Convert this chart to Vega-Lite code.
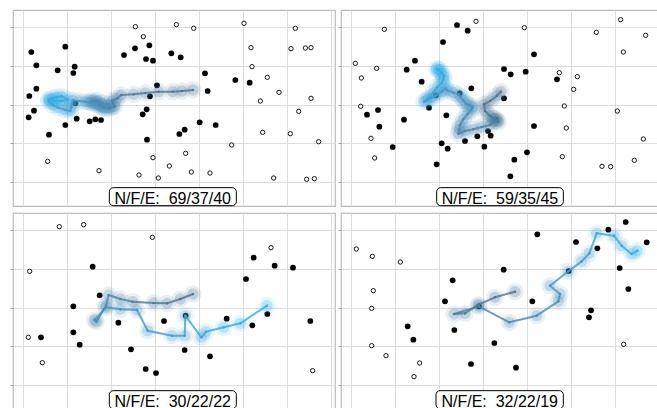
{
  "$schema": "https://vega.github.io/schema/vega-lite/v6.json",
  "padding": {"left": 8, "top": 9, "right": 0, "bottom": 0},
  "background": "white",
  "config": {
    "view": {"stroke": "#bdbdbd", "strokeWidth": 1.2},
    "axis": {"gridColor": "#dddddd", "gridWidth": 1, "labels": false, "domain": false, "title": null, "minExtent": 0}
  },
  "data": {"values": [
    {"p":"A","k":"f","x":88,"y":153},{"p":"A","k":"f","x":103,"y":193},{"p":"A","k":"f","x":190,"y":137},{"p":"A","k":"f","x":167,"y":208},{"p":"A","k":"f","x":218,"y":197},{"p":"A","k":"f","x":214,"y":216},{"p":"A","k":"f","x":103,"y":263},{"p":"A","k":"f","x":82,"y":285},{"p":"A","k":"f","x":96,"y":329},{"p":"A","k":"f","x":80,"y":349},{"p":"A","k":"f","x":141,"y":401},{"p":"A","k":"f","x":190,"y":372},{"p":"A","k":"f","x":224,"y":353},{"p":"A","k":"f","x":220,"y":307},{"p":"A","k":"f","x":263,"y":361},{"p":"A","k":"f","x":280,"y":355},{"p":"A","k":"f","x":297,"y":357},{"p":"A","k":"f","x":366,"y":162},{"p":"A","k":"f","x":399,"y":142},{"p":"A","k":"f","x":442,"y":133},{"p":"A","k":"f","x":432,"y":174},{"p":"A","k":"f","x":453,"y":179},{"p":"A","k":"f","x":508,"y":157},{"p":"A","k":"f","x":536,"y":169},{"p":"A","k":"f","x":465,"y":253},{"p":"A","k":"f","x":444,"y":286},{"p":"A","k":"f","x":434,"y":325},{"p":"A","k":"f","x":422,"y":340},{"p":"A","k":"f","x":435,"y":416},{"p":"A","k":"f","x":532,"y":399},{"p":"A","k":"f","x":548,"y":386},{"p":"A","k":"f","x":593,"y":364},{"p":"A","k":"f","x":641,"y":372},{"p":"A","k":"f","x":609,"y":217},{"p":"A","k":"f","x":617,"y":270},{"p":"A","k":"f","x":700,"y":237},{"p":"A","k":"f","x":743,"y":245},
    {"p":"A","k":"o","x":400,"y":77},{"p":"A","k":"o","x":523,"y":71},{"p":"A","k":"o","x":575,"y":82},{"p":"A","k":"o","x":424,"y":107},{"p":"A","k":"o","x":726,"y":67},{"p":"A","k":"o","x":880,"y":82},{"p":"A","k":"o","x":747,"y":140},{"p":"A","k":"o","x":867,"y":143},{"p":"A","k":"o","x":910,"y":141},{"p":"A","k":"o","x":927,"y":140},{"p":"A","k":"o","x":750,"y":197},{"p":"A","k":"o","x":796,"y":229},{"p":"A","k":"o","x":831,"y":274},{"p":"A","k":"o","x":775,"y":300},{"p":"A","k":"o","x":927,"y":292},{"p":"A","k":"o","x":890,"y":331},{"p":"A","k":"o","x":782,"y":394},{"p":"A","k":"o","x":865,"y":398},{"p":"A","k":"o","x":950,"y":422},{"p":"A","k":"o","x":689,"y":432},{"p":"A","k":"o","x":453,"y":470},{"p":"A","k":"o","x":551,"y":457},{"p":"A","k":"o","x":502,"y":495},{"p":"A","k":"o","x":411,"y":522},{"p":"A","k":"o","x":469,"y":531},{"p":"A","k":"o","x":568,"y":513},{"p":"A","k":"o","x":624,"y":516},{"p":"A","k":"o","x":137,"y":481},{"p":"A","k":"o","x":291,"y":509},{"p":"A","k":"o","x":815,"y":531},{"p":"A","k":"o","x":914,"y":535},{"p":"A","k":"o","x":937,"y":533},
    {"p":"A","k":"l","s":1,"x":573,"y":267},{"p":"A","k":"l","s":2,"x":540,"y":270},{"p":"A","k":"l","s":3,"x":512,"y":272},{"p":"A","k":"l","s":4,"x":470,"y":272},{"p":"A","k":"l","s":5,"x":430,"y":276},{"p":"A","k":"l","s":6,"x":395,"y":280},{"p":"A","k":"l","s":7,"x":358,"y":282},{"p":"A","k":"l","s":8,"x":345,"y":292},{"p":"A","k":"l","s":9,"x":330,"y":300},{"p":"A","k":"l","s":10,"x":338,"y":316},{"p":"A","k":"l","s":11,"x":322,"y":322},{"p":"A","k":"l","s":12,"x":305,"y":320},{"p":"A","k":"l","s":13,"x":292,"y":312},{"p":"A","k":"l","s":14,"x":280,"y":303},{"p":"A","k":"l","s":15,"x":268,"y":300},{"p":"A","k":"l","s":16,"x":285,"y":298},{"p":"A","k":"l","s":17,"x":300,"y":306},{"p":"A","k":"l","s":18,"x":318,"y":310},{"p":"A","k":"l","s":19,"x":330,"y":318},{"p":"A","k":"l","s":20,"x":312,"y":322},{"p":"A","k":"l","s":21,"x":296,"y":318},{"p":"A","k":"l","s":22,"x":283,"y":310},{"p":"A","k":"l","s":23,"x":270,"y":306},{"p":"A","k":"l","s":24,"x":262,"y":304},{"p":"A","k":"l","s":25,"x":250,"y":302},{"p":"A","k":"l","s":26,"x":230,"y":300},{"p":"A","k":"l","s":27,"x":212,"y":298},{"p":"A","k":"l","s":28,"x":208,"y":318},{"p":"A","k":"l","s":29,"x":205,"y":330},{"p":"A","k":"l","s":30,"x":188,"y":326},{"p":"A","k":"l","s":31,"x":168,"y":320},{"p":"A","k":"l","s":32,"x":152,"y":312},{"p":"A","k":"l","s":33,"x":140,"y":300},{"p":"A","k":"l","s":34,"x":150,"y":292},{"p":"A","k":"l","s":35,"x":165,"y":288},{"p":"A","k":"l","s":36,"x":180,"y":286},{"p":"A","k":"l","s":37,"x":198,"y":296},{"p":"A","k":"l","s":38,"x":178,"y":300},{"p":"A","k":"l","s":39,"x":155,"y":300},{"p":"A","k":"l","s":40,"x":140,"y":295},
    {"p":"A","k":"t","label":"N/F/E:\u00a0 69/37/40"},

    {"p":"B","k":"f","x":381,"y":72},{"p":"B","k":"f","x":413,"y":89},{"p":"B","k":"f","x":339,"y":123},{"p":"B","k":"f","x":612,"y":160},{"p":"B","k":"f","x":255,"y":179},{"p":"B","k":"f","x":230,"y":206},{"p":"B","k":"f","x":275,"y":242},{"p":"B","k":"f","x":522,"y":204},{"p":"B","k":"f","x":542,"y":220},{"p":"B","k":"f","x":587,"y":212},{"p":"B","k":"f","x":681,"y":235},{"p":"B","k":"f","x":318,"y":283},{"p":"B","k":"f","x":389,"y":277},{"p":"B","k":"f","x":424,"y":262},{"p":"B","k":"f","x":522,"y":292},{"p":"B","k":"f","x":297,"y":320},{"p":"B","k":"f","x":144,"y":327},{"p":"B","k":"f","x":111,"y":341},{"p":"B","k":"f","x":148,"y":377},{"p":"B","k":"f","x":222,"y":356},{"p":"B","k":"f","x":349,"y":343},{"p":"B","k":"f","x":612,"y":375},{"p":"B","k":"f","x":442,"y":406},{"p":"B","k":"f","x":405,"y":420},{"p":"B","k":"f","x":474,"y":390},{"p":"B","k":"f","x":482,"y":404},{"p":"B","k":"f","x":463,"y":437},{"p":"B","k":"f","x":335,"y":427},{"p":"B","k":"f","x":353,"y":443},{"p":"B","k":"f","x":188,"y":438},{"p":"B","k":"f","x":591,"y":454},{"p":"B","k":"f","x":553,"y":476},{"p":"B","k":"f","x":320,"y":490},{"p":"B","k":"f","x":541,"y":526},{"p":"B","k":"f","x":497,"y":356},
    {"p":"B","k":"o","x":438,"y":61},{"p":"B","k":"o","x":163,"y":85},{"p":"B","k":"o","x":583,"y":80},{"p":"B","k":"o","x":799,"y":94},{"p":"B","k":"o","x":872,"y":56},{"p":"B","k":"o","x":947,"y":103},{"p":"B","k":"o","x":880,"y":153},{"p":"B","k":"o","x":76,"y":187},{"p":"B","k":"o","x":140,"y":202},{"p":"B","k":"o","x":94,"y":231},{"p":"B","k":"o","x":688,"y":215},{"p":"B","k":"o","x":742,"y":227},{"p":"B","k":"o","x":731,"y":265},{"p":"B","k":"o","x":92,"y":316},{"p":"B","k":"o","x":703,"y":315},{"p":"B","k":"o","x":862,"y":330},{"p":"B","k":"o","x":709,"y":381},{"p":"B","k":"o","x":123,"y":412},{"p":"B","k":"o","x":940,"y":414},{"p":"B","k":"o","x":134,"y":471},{"p":"B","k":"o","x":697,"y":467},{"p":"B","k":"o","x":816,"y":496},{"p":"B","k":"o","x":842,"y":497},{"p":"B","k":"o","x":913,"y":478},
    {"p":"B","k":"l","s":1,"x":513,"y":272},{"p":"B","k":"l","s":2,"x":500,"y":285},{"p":"B","k":"l","s":3,"x":480,"y":300},{"p":"B","k":"l","s":4,"x":462,"y":310},{"p":"B","k":"l","s":5,"x":465,"y":330},{"p":"B","k":"l","s":6,"x":480,"y":345},{"p":"B","k":"l","s":7,"x":495,"y":352},{"p":"B","k":"l","s":8,"x":505,"y":362},{"p":"B","k":"l","s":9,"x":495,"y":360},{"p":"B","k":"l","s":10,"x":488,"y":352},{"p":"B","k":"l","s":11,"x":500,"y":358},{"p":"B","k":"l","s":12,"x":480,"y":372},{"p":"B","k":"l","s":13,"x":455,"y":378},{"p":"B","k":"l","s":14,"x":430,"y":385},{"p":"B","k":"l","s":15,"x":405,"y":390},{"p":"B","k":"l","s":16,"x":385,"y":398},{"p":"B","k":"l","s":17,"x":388,"y":385},{"p":"B","k":"l","s":18,"x":390,"y":372},{"p":"B","k":"l","s":19,"x":400,"y":355},{"p":"B","k":"l","s":20,"x":412,"y":340},{"p":"B","k":"l","s":21,"x":425,"y":325},{"p":"B","k":"l","s":22,"x":428,"y":318},{"p":"B","k":"l","s":23,"x":418,"y":312},{"p":"B","k":"l","s":24,"x":408,"y":308},{"p":"B","k":"l","s":25,"x":400,"y":298},{"p":"B","k":"l","s":26,"x":392,"y":288},{"p":"B","k":"l","s":27,"x":385,"y":280},{"p":"B","k":"l","s":28,"x":370,"y":275},{"p":"B","k":"l","s":29,"x":352,"y":268},{"p":"B","k":"l","s":30,"x":348,"y":262},{"p":"B","k":"l","s":31,"x":335,"y":272},{"p":"B","k":"l","s":32,"x":320,"y":282},{"p":"B","k":"l","s":33,"x":305,"y":290},{"p":"B","k":"l","s":34,"x":290,"y":298},{"p":"B","k":"l","s":35,"x":282,"y":302},{"p":"B","k":"l","s":36,"x":295,"y":292},{"p":"B","k":"l","s":37,"x":310,"y":275},{"p":"B","k":"l","s":38,"x":322,"y":258},{"p":"B","k":"l","s":39,"x":335,"y":245},{"p":"B","k":"l","s":40,"x":340,"y":235},{"p":"B","k":"l","s":41,"x":342,"y":225},{"p":"B","k":"l","s":42,"x":335,"y":215},{"p":"B","k":"l","s":43,"x":325,"y":207},{"p":"B","k":"l","s":44,"x":320,"y":203},{"p":"B","k":"l","s":45,"x":328,"y":205},
    {"p":"B","k":"t","label":"N/F/E:\u00a0 59/35/45"},

    {"p":"C","k":"f","x":272,"y":188},{"p":"C","k":"f","x":293,"y":274},{"p":"C","k":"f","x":214,"y":307},{"p":"C","k":"f","x":214,"y":385},{"p":"C","k":"f","x":233,"y":422},{"p":"C","k":"f","x":117,"y":400},{"p":"C","k":"f","x":349,"y":356},{"p":"C","k":"f","x":387,"y":436},{"p":"C","k":"f","x":431,"y":495},{"p":"C","k":"f","x":462,"y":507},{"p":"C","k":"f","x":486,"y":351},{"p":"C","k":"f","x":548,"y":438},{"p":"C","k":"f","x":624,"y":457},{"p":"C","k":"f","x":551,"y":335},{"p":"C","k":"f","x":674,"y":344},{"p":"C","k":"f","x":751,"y":364},{"p":"C","k":"f","x":796,"y":330},{"p":"C","k":"f","x":732,"y":225},{"p":"C","k":"f","x":755,"y":161},{"p":"C","k":"f","x":818,"y":185},{"p":"C","k":"f","x":873,"y":191},{"p":"C","k":"f","x":925,"y":351},
    {"p":"C","k":"o","x":172,"y":68},{"p":"C","k":"o","x":245,"y":62},{"p":"C","k":"o","x":451,"y":100},{"p":"C","k":"o","x":807,"y":131},{"p":"C","k":"o","x":83,"y":202},{"p":"C","k":"o","x":79,"y":400},{"p":"C","k":"o","x":121,"y":476},{"p":"C","k":"o","x":932,"y":500},
    {"p":"C","k":"l","s":1,"x":573,"y":270},{"p":"C","k":"l","s":2,"x":535,"y":285},{"p":"C","k":"l","s":3,"x":495,"y":298},{"p":"C","k":"l","s":4,"x":455,"y":297},{"p":"C","k":"l","s":5,"x":392,"y":293},{"p":"C","k":"l","s":6,"x":355,"y":285},{"p":"C","k":"l","s":7,"x":320,"y":273},{"p":"C","k":"l","s":8,"x":312,"y":305},{"p":"C","k":"l","s":9,"x":283,"y":353},{"p":"C","k":"l","s":10,"x":278,"y":348},{"p":"C","k":"l","s":11,"x":312,"y":310},{"p":"C","k":"l","s":12,"x":355,"y":316},{"p":"C","k":"l","s":13,"x":405,"y":318},{"p":"C","k":"l","s":14,"x":437,"y":380},{"p":"C","k":"l","s":15,"x":510,"y":395},{"p":"C","k":"l","s":16,"x":548,"y":395},{"p":"C","k":"l","s":17,"x":550,"y":335},{"p":"C","k":"l","s":18,"x":598,"y":400},{"p":"C","k":"l","s":19,"x":612,"y":383},{"p":"C","k":"l","s":20,"x":665,"y":370},{"p":"C","k":"l","s":21,"x":715,"y":358},{"p":"C","k":"l","s":22,"x":795,"y":305},
    {"p":"C","k":"t","label":"N/F/E:\u00a0 30/22/22"},

    {"p":"D","k":"f","x":622,"y":91},{"p":"D","k":"f","x":738,"y":114},{"p":"D","k":"f","x":835,"y":77},{"p":"D","k":"f","x":887,"y":54},{"p":"D","k":"f","x":950,"y":115},{"p":"D","k":"f","x":802,"y":133},{"p":"D","k":"f","x":716,"y":201},{"p":"D","k":"f","x":869,"y":192},{"p":"D","k":"f","x":895,"y":255},{"p":"D","k":"f","x":521,"y":197},{"p":"D","k":"f","x":368,"y":229},{"p":"D","k":"f","x":345,"y":292},{"p":"D","k":"f","x":607,"y":292},{"p":"D","k":"f","x":447,"y":307},{"p":"D","k":"f","x":783,"y":319},{"p":"D","k":"f","x":777,"y":340},{"p":"D","k":"f","x":373,"y":378},{"p":"D","k":"f","x":233,"y":367},{"p":"D","k":"f","x":250,"y":407},{"p":"D","k":"f","x":493,"y":417},{"p":"D","k":"f","x":423,"y":480},{"p":"D","k":"f","x":558,"y":491},
    {"p":"D","k":"o","x":79,"y":135},{"p":"D","k":"o","x":127,"y":157},{"p":"D","k":"o","x":211,"y":174},{"p":"D","k":"o","x":130,"y":260},{"p":"D","k":"o","x":125,"y":313},{"p":"D","k":"o","x":125,"y":425},{"p":"D","k":"o","x":168,"y":455},{"p":"D","k":"o","x":269,"y":477},{"p":"D","k":"o","x":252,"y":518},{"p":"D","k":"o","x":881,"y":421},
    {"p":"D","k":"l","s":1,"x":555,"y":263},{"p":"D","k":"l","s":2,"x":495,"y":280},{"p":"D","k":"l","s":3,"x":445,"y":302},{"p":"D","k":"l","s":4,"x":405,"y":328},{"p":"D","k":"l","s":5,"x":372,"y":330},{"p":"D","k":"l","s":6,"x":447,"y":307},{"p":"D","k":"l","s":7,"x":538,"y":355},{"p":"D","k":"l","s":8,"x":620,"y":335},{"p":"D","k":"l","s":9,"x":685,"y":292},{"p":"D","k":"l","s":10,"x":690,"y":270},{"p":"D","k":"l","s":11,"x":660,"y":245},{"p":"D","k":"l","s":12,"x":715,"y":202},{"p":"D","k":"l","s":13,"x":755,"y":172},{"p":"D","k":"l","s":14,"x":778,"y":148},{"p":"D","k":"l","s":15,"x":800,"y":88},{"p":"D","k":"l","s":16,"x":852,"y":95},{"p":"D","k":"l","s":17,"x":875,"y":125},{"p":"D","k":"l","s":18,"x":905,"y":150},{"p":"D","k":"l","s":19,"x":922,"y":140},
    {"p":"D","k":"t","label":"N/F/E:\u00a0 32/22/19"}
  ]},
  "columns": 2,
  "spacing": {"row": 7, "column": 6},
  "bounds": "flush",
  "resolve": {"scale": {"color": "independent"}},
  "concat": [
    {"width": 322, "height": 196, "transform": [{"filter": "datum.p === 'A'"}], "layer": [
      {"transform": [{"filter": "datum.k === 'f'"}], "mark": {"type": "point", "shape": "circle", "filled": true, "size": 33, "color": "black", "opacity": 1},
       "encoding": {"x": {"field": "x", "type": "quantitative", "scale": {"domain": [33, 999], "nice": false, "zero": false}, "axis": {"grid": true, "ticks": false, "values": [64, 195.5, 327, 458.5, 590.5, 722.5, 854.5, 986]}},
                    "y": {"field": "y", "type": "quantitative", "scale": {"domain": [27, 615], "nice": false, "zero": false, "reverse": true}, "axis": {"grid": true, "ticks": true, "tickSize": 3, "tickWidth": 1, "tickColor": {"condition": {"test": "round((datum.value - 78) / 58.2) % 2 === 0", "value": "#9a9a9a"}, "value": "transparent"}, "values": [78, 136.2, 194.4, 252.6, 310.8, 369, 427.2, 485.4, 543.6, 601.8]}}}},
      {"transform": [{"filter": "datum.k === 'o'"}], "mark": {"type": "point", "shape": "circle", "filled": false, "size": 19, "stroke": "black", "strokeWidth": 0.9, "fill": "white", "opacity": 1},
       "encoding": {"x": {"field": "x", "type": "quantitative"}, "y": {"field": "y", "type": "quantitative"}}},
      {"transform": [{"filter": "datum.k === 'l'"}], "mark": {"type": "circle", "size": 300, "opacity": 0.12},
       "encoding": {"x": {"field": "x", "type": "quantitative"}, "y": {"field": "y", "type": "quantitative"}, "color": {"field": "s", "type": "quantitative", "scale": {"range": ["#4d7390", "#2fb1ec"]}, "legend": null}}},
      {"transform": [{"filter": "datum.k === 'l'"}], "mark": {"type": "circle", "size": 130, "opacity": 0.25},
       "encoding": {"x": {"field": "x", "type": "quantitative"}, "y": {"field": "y", "type": "quantitative"}, "color": {"field": "s", "type": "quantitative", "legend": null}}},
      {"transform": [{"filter": "datum.k === 'l'"}, {"window": [{"op": "lead", "field": "x", "as": "x2"}, {"op": "lead", "field": "y", "as": "y2"}], "sort": [{"field": "s"}]}, {"filter": "datum.x2 != null"}],
       "mark": {"type": "rule", "strokeWidth": 2, "opacity": 0.8, "strokeCap": "round"},
       "encoding": {"x": {"field": "x", "type": "quantitative"}, "y": {"field": "y", "type": "quantitative"}, "x2": {"field": "x2"}, "y2": {"field": "y2"}, "color": {"field": "s", "type": "quantitative", "legend": null}}},
      {"transform": [{"filter": "datum.k === 'l'"}], "mark": {"type": "circle", "size": 6, "opacity": 0.9},
       "encoding": {"x": {"field": "x", "type": "quantitative"}, "y": {"field": "y", "type": "quantitative"}, "color": {"field": "s", "type": "quantitative", "legend": null}}},
      {"transform": [{"filter": "datum.k === 't'"}], "mark": {"type": "rect", "fill": "white", "stroke": "black", "strokeWidth": 1, "cornerRadius": 4},
       "encoding": {"x": {"datum": 322, "type": "quantitative"}, "x2": {"datum": 703}, "y": {"datum": 560, "type": "quantitative"}, "y2": {"datum": 614}}},
      {"transform": [{"filter": "datum.k === 't'"}], "mark": {"type": "text", "font": "Liberation Sans", "fontSize": 16, "color": "black", "align": "center", "baseline": "alphabetic"},
       "encoding": {"x": {"datum": 512, "type": "quantitative"}, "y": {"datum": 609, "type": "quantitative"}, "text": {"field": "label"}}}
    ]},
    {"width": 322, "height": 196, "transform": [{"filter": "datum.p === 'B'"}], "layer": [
      {"transform": [{"filter": "datum.k === 'f'"}], "mark": {"type": "point", "shape": "circle", "filled": true, "size": 33, "color": "black", "opacity": 1},
       "encoding": {"x": {"field": "x", "type": "quantitative", "scale": {"domain": [33, 999], "nice": false, "zero": false}, "axis": {"grid": true, "ticks": false, "values": [64, 195.5, 327, 458.5, 590.5, 722.5, 854.5, 986]}},
                    "y": {"field": "y", "type": "quantitative", "scale": {"domain": [27, 615], "nice": false, "zero": false, "reverse": true}, "axis": {"grid": true, "ticks": true, "tickSize": 3, "tickWidth": 1, "tickColor": {"condition": {"test": "round((datum.value - 78) / 58.2) % 2 === 0", "value": "#9a9a9a"}, "value": "transparent"}, "values": [78, 136.2, 194.4, 252.6, 310.8, 369, 427.2, 485.4, 543.6, 601.8]}}}},
      {"transform": [{"filter": "datum.k === 'o'"}], "mark": {"type": "point", "shape": "circle", "filled": false, "size": 19, "stroke": "black", "strokeWidth": 0.9, "fill": "white", "opacity": 1},
       "encoding": {"x": {"field": "x", "type": "quantitative"}, "y": {"field": "y", "type": "quantitative"}}},
      {"transform": [{"filter": "datum.k === 'l'"}], "mark": {"type": "circle", "size": 300, "opacity": 0.12},
       "encoding": {"x": {"field": "x", "type": "quantitative"}, "y": {"field": "y", "type": "quantitative"}, "color": {"field": "s", "type": "quantitative", "scale": {"range": ["#4d7390", "#2fb1ec"]}, "legend": null}}},
      {"transform": [{"filter": "datum.k === 'l'"}], "mark": {"type": "circle", "size": 130, "opacity": 0.25},
       "encoding": {"x": {"field": "x", "type": "quantitative"}, "y": {"field": "y", "type": "quantitative"}, "color": {"field": "s", "type": "quantitative", "legend": null}}},
      {"transform": [{"filter": "datum.k === 'l'"}, {"window": [{"op": "lead", "field": "x", "as": "x2"}, {"op": "lead", "field": "y", "as": "y2"}], "sort": [{"field": "s"}]}, {"filter": "datum.x2 != null"}],
       "mark": {"type": "rule", "strokeWidth": 2, "opacity": 0.8, "strokeCap": "round"},
       "encoding": {"x": {"field": "x", "type": "quantitative"}, "y": {"field": "y", "type": "quantitative"}, "x2": {"field": "x2"}, "y2": {"field": "y2"}, "color": {"field": "s", "type": "quantitative", "legend": null}}},
      {"transform": [{"filter": "datum.k === 'l'"}], "mark": {"type": "circle", "size": 6, "opacity": 0.9},
       "encoding": {"x": {"field": "x", "type": "quantitative"}, "y": {"field": "y", "type": "quantitative"}, "color": {"field": "s", "type": "quantitative", "legend": null}}},
      {"transform": [{"filter": "datum.k === 't'"}], "mark": {"type": "rect", "fill": "white", "stroke": "black", "strokeWidth": 1, "cornerRadius": 4},
       "encoding": {"x": {"datum": 320, "type": "quantitative"}, "x2": {"datum": 700}, "y": {"datum": 560, "type": "quantitative"}, "y2": {"datum": 614}}},
      {"transform": [{"filter": "datum.k === 't'"}], "mark": {"type": "text", "font": "Liberation Sans", "fontSize": 16, "color": "black", "align": "center", "baseline": "alphabetic"},
       "encoding": {"x": {"datum": 510, "type": "quantitative"}, "y": {"datum": 609, "type": "quantitative"}, "text": {"field": "label"}}}
    ]},
    {"width": 322, "height": 196, "transform": [{"filter": "datum.p === 'C'"}], "layer": [
      {"transform": [{"filter": "datum.k === 'f'"}], "mark": {"type": "point", "shape": "circle", "filled": true, "size": 33, "color": "black", "opacity": 1},
       "encoding": {"x": {"field": "x", "type": "quantitative", "scale": {"domain": [33, 999], "nice": false, "zero": false}, "axis": {"grid": true, "ticks": false, "values": [64, 195.5, 327, 458.5, 590.5, 722.5, 854.5, 986]}},
                    "y": {"field": "y", "type": "quantitative", "scale": {"domain": [27, 615], "nice": false, "zero": false, "reverse": true}, "axis": {"grid": true, "ticks": true, "tickSize": 3, "tickWidth": 1, "tickColor": {"condition": {"test": "round((datum.value - 78) / 58.2) % 2 === 0", "value": "#9a9a9a"}, "value": "transparent"}, "values": [78, 136.2, 194.4, 252.6, 310.8, 369, 427.2, 485.4, 543.6, 601.8]}}}},
      {"transform": [{"filter": "datum.k === 'o'"}], "mark": {"type": "point", "shape": "circle", "filled": false, "size": 19, "stroke": "black", "strokeWidth": 0.9, "fill": "white", "opacity": 1},
       "encoding": {"x": {"field": "x", "type": "quantitative"}, "y": {"field": "y", "type": "quantitative"}}},
      {"transform": [{"filter": "datum.k === 'l'"}], "mark": {"type": "circle", "size": 300, "opacity": 0.12},
       "encoding": {"x": {"field": "x", "type": "quantitative"}, "y": {"field": "y", "type": "quantitative"}, "color": {"field": "s", "type": "quantitative", "scale": {"range": ["#4d7390", "#2fb1ec"]}, "legend": null}}},
      {"transform": [{"filter": "datum.k === 'l'"}], "mark": {"type": "circle", "size": 130, "opacity": 0.25},
       "encoding": {"x": {"field": "x", "type": "quantitative"}, "y": {"field": "y", "type": "quantitative"}, "color": {"field": "s", "type": "quantitative", "legend": null}}},
      {"transform": [{"filter": "datum.k === 'l'"}, {"window": [{"op": "lead", "field": "x", "as": "x2"}, {"op": "lead", "field": "y", "as": "y2"}], "sort": [{"field": "s"}]}, {"filter": "datum.x2 != null"}],
       "mark": {"type": "rule", "strokeWidth": 2, "opacity": 0.8, "strokeCap": "round"},
       "encoding": {"x": {"field": "x", "type": "quantitative"}, "y": {"field": "y", "type": "quantitative"}, "x2": {"field": "x2"}, "y2": {"field": "y2"}, "color": {"field": "s", "type": "quantitative", "legend": null}}},
      {"transform": [{"filter": "datum.k === 'l'"}], "mark": {"type": "circle", "size": 6, "opacity": 0.9},
       "encoding": {"x": {"field": "x", "type": "quantitative"}, "y": {"field": "y", "type": "quantitative"}, "color": {"field": "s", "type": "quantitative", "legend": null}}},
      {"transform": [{"filter": "datum.k === 't'"}], "mark": {"type": "rect", "fill": "white", "stroke": "black", "strokeWidth": 1, "cornerRadius": 4},
       "encoding": {"x": {"datum": 322, "type": "quantitative"}, "x2": {"datum": 703}, "y": {"datum": 560, "type": "quantitative"}, "y2": {"datum": 614}}},
      {"transform": [{"filter": "datum.k === 't'"}], "mark": {"type": "text", "font": "Liberation Sans", "fontSize": 16, "color": "black", "align": "center", "baseline": "alphabetic"},
       "encoding": {"x": {"datum": 512, "type": "quantitative"}, "y": {"datum": 609, "type": "quantitative"}, "text": {"field": "label"}}}
    ]},
    {"width": 322, "height": 196, "transform": [{"filter": "datum.p === 'D'"}], "layer": [
      {"transform": [{"filter": "datum.k === 'f'"}], "mark": {"type": "point", "shape": "circle", "filled": true, "size": 33, "color": "black", "opacity": 1},
       "encoding": {"x": {"field": "x", "type": "quantitative", "scale": {"domain": [33, 999], "nice": false, "zero": false}, "axis": {"grid": true, "ticks": false, "values": [64, 195.5, 327, 458.5, 590.5, 722.5, 854.5, 986]}},
                    "y": {"field": "y", "type": "quantitative", "scale": {"domain": [27, 615], "nice": false, "zero": false, "reverse": true}, "axis": {"grid": true, "ticks": true, "tickSize": 3, "tickWidth": 1, "tickColor": {"condition": {"test": "round((datum.value - 78) / 58.2) % 2 === 0", "value": "#9a9a9a"}, "value": "transparent"}, "values": [78, 136.2, 194.4, 252.6, 310.8, 369, 427.2, 485.4, 543.6, 601.8]}}}},
      {"transform": [{"filter": "datum.k === 'o'"}], "mark": {"type": "point", "shape": "circle", "filled": false, "size": 19, "stroke": "black", "strokeWidth": 0.9, "fill": "white", "opacity": 1},
       "encoding": {"x": {"field": "x", "type": "quantitative"}, "y": {"field": "y", "type": "quantitative"}}},
      {"transform": [{"filter": "datum.k === 'l'"}], "mark": {"type": "circle", "size": 300, "opacity": 0.12},
       "encoding": {"x": {"field": "x", "type": "quantitative"}, "y": {"field": "y", "type": "quantitative"}, "color": {"field": "s", "type": "quantitative", "scale": {"range": ["#4d7390", "#2fb1ec"]}, "legend": null}}},
      {"transform": [{"filter": "datum.k === 'l'"}], "mark": {"type": "circle", "size": 130, "opacity": 0.25},
       "encoding": {"x": {"field": "x", "type": "quantitative"}, "y": {"field": "y", "type": "quantitative"}, "color": {"field": "s", "type": "quantitative", "legend": null}}},
      {"transform": [{"filter": "datum.k === 'l'"}, {"window": [{"op": "lead", "field": "x", "as": "x2"}, {"op": "lead", "field": "y", "as": "y2"}], "sort": [{"field": "s"}]}, {"filter": "datum.x2 != null"}],
       "mark": {"type": "rule", "strokeWidth": 2, "opacity": 0.8, "strokeCap": "round"},
       "encoding": {"x": {"field": "x", "type": "quantitative"}, "y": {"field": "y", "type": "quantitative"}, "x2": {"field": "x2"}, "y2": {"field": "y2"}, "color": {"field": "s", "type": "quantitative", "legend": null}}},
      {"transform": [{"filter": "datum.k === 'l'"}], "mark": {"type": "circle", "size": 6, "opacity": 0.9},
       "encoding": {"x": {"field": "x", "type": "quantitative"}, "y": {"field": "y", "type": "quantitative"}, "color": {"field": "s", "type": "quantitative", "legend": null}}},
      {"transform": [{"filter": "datum.k === 't'"}], "mark": {"type": "rect", "fill": "white", "stroke": "black", "strokeWidth": 1, "cornerRadius": 4},
       "encoding": {"x": {"datum": 318, "type": "quantitative"}, "x2": {"datum": 700}, "y": {"datum": 560, "type": "quantitative"}, "y2": {"datum": 614}}},
      {"transform": [{"filter": "datum.k === 't'"}], "mark": {"type": "text", "font": "Liberation Sans", "fontSize": 16, "color": "black", "align": "center", "baseline": "alphabetic"},
       "encoding": {"x": {"datum": 509, "type": "quantitative"}, "y": {"datum": 609, "type": "quantitative"}, "text": {"field": "label"}}}
    ]}
  ]
}
